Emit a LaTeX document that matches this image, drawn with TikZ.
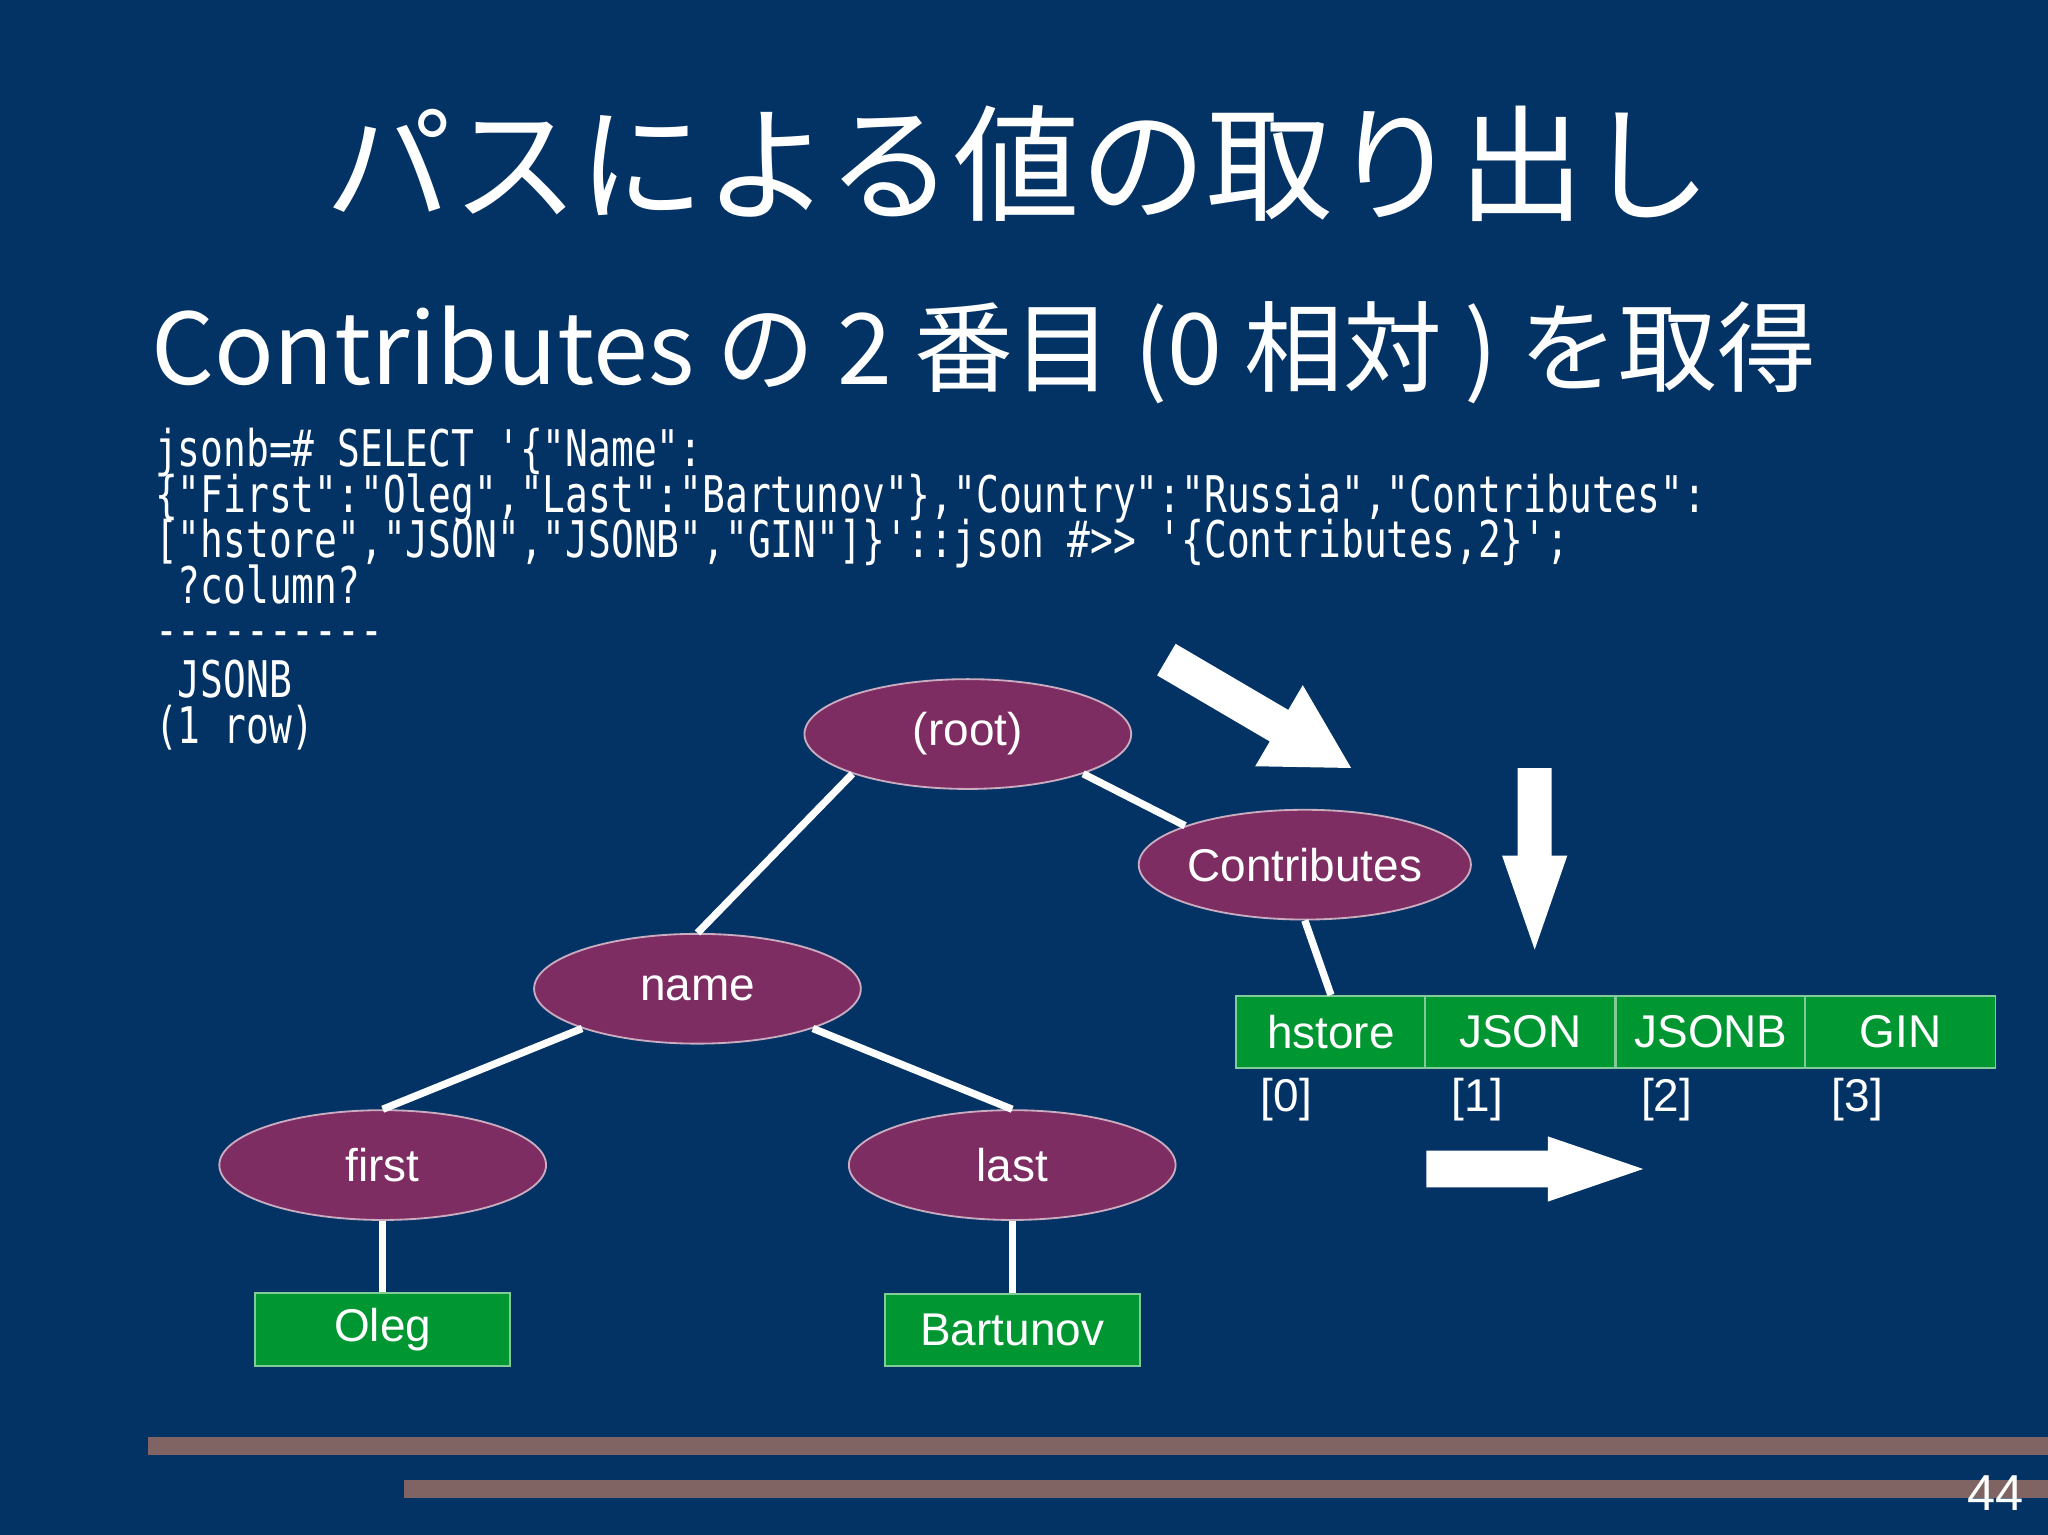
\documentclass[tikz,border=0pt]{standalone}
\usepackage{fontspec}
\setmainfont{Liberation Sans}
\newfontfamily\cjk{Noto Sans CJK JP}
\newfontfamily\codefont{DejaVu Sans Mono}
\usetikzlibrary{shapes.geometric}
\definecolor{bg}{RGB}{3,51,101}
\definecolor{nodepurple}{RGB}{125,45,98}
\definecolor{boxgreen}{RGB}{0,150,50}
\definecolor{barbrown}{RGB}{128,99,99}
\begin{document}
\begin{tikzpicture}[x=0.01cm,y=-0.01cm,
  el/.style={ellipse,draw=white!60!nodepurple,line width=0.4pt,fill=nodepurple,minimum width=2.5cm,minimum height=0.84cm,inner xsep=0pt,text=white,font=\fontsize{10}{11}\selectfont},
  gbox/.style={draw=white!50!boxgreen,line width=0.4pt,fill=boxgreen,text=white,minimum height=0.55cm,font=\fontsize{10}{11}\selectfont},
  cell/.style={gbox,minimum width=1.455cm},
  conn/.style={white,line width=1.6pt},
  code/.style={anchor=base west,text=white,inner sep=0pt,font=\codefont\fontsize{11}{11}\selectfont},
  idx/.style={text=white,font=\fontsize{10}{11}\selectfont},
  bigarrow/.style={fill=white,draw=none}]
\fill[bg] (0,0) rectangle (1568,1175);
\useasboundingbox (0,0) rectangle (1568,1175);

% title and subtitle
\node[text=white,font=\cjk\fontsize{27.5}{30}\selectfont] (title) at (780,125) {パスによる値の取り出し};
\node[anchor=west,text=white,inner sep=0pt,font=\cjk\fontsize{21.5}{23}\selectfont] (sub) at (115,270) {Contributes の 2 番目 (0 相対 ) を取得};

% query
\node[code] (c1) at (118,357) {\scalebox{0.75}[1]{jsonb=\# SELECT '\{"Name":}};
\node[code] (c2) at (118,392) {\scalebox{0.75}[1]{\{"First":"Oleg","Last":"Bartunov"\},"Country":"Russia","Contributes":}};
\node[code] (c3) at (118,427) {\scalebox{0.75}[1]{["hstore","JSON","JSONB","GIN"]\}'::json \#>> '\{Contributes,2\}';}};
\node[code] (c4) at (118,462) {\scalebox{0.75}[1]{\ ?column?}};
\node[code] (c5) at (118,496) {\scalebox{0.75}[1]{----------}};
\node[code] (c6) at (118,534) {\scalebox{0.75}[1]{\ JSONB}};
\node[code] (c7) at (118,569) {\scalebox{0.75}[1]{(1 row)}};

% tree
\node[el] (root) at (741,562) {(root)};
\node[el] (contrib) at (999,662) {Contributes};
\node[el] (name) at (534,757) {name};
\node[el] (first) at (293,892) {first};
\node[el] (last) at (775,892) {last};
\node[gbox,minimum width=1.95cm] (oleg) at (293,1018) {Oleg};
\node[gbox,minimum width=1.95cm] (bart) at (775,1018) {Bartunov};

\node[cell] (a0) at (1019,790) {hstore};
\node[cell] (a1) at (1164,790) {JSON};
\node[cell] (a2) at (1310,790) {JSONB};
\node[cell] (a3) at (1455,790) {GIN};
\node[idx] (i0) at (985,842) {[0]};
\node[idx] (i1) at (1131,842) {[1]};
\node[idx] (i2) at (1276,842) {[2]};
\node[idx] (i3) at (1422,842) {[3]};

\draw[conn] (root.199) -- (name.north);
\draw[conn] (root.341) -- (contrib.162);
\draw[conn] (contrib.south) -- (a0.north);
\draw[conn] (name.199) -- (first.north);
\draw[conn] (name.341) -- (last.north);
\draw[conn] (first) -- (oleg);
\draw[conn] (last) -- (bart);

% block arrows
\begin{scope}[shift={(893,505)},rotate=-30.4]
\fill[bigarrow] (0,-14) -- (100,-14) -- (100,-36) -- (164,0) -- (100,36) -- (100,14) -- (0,14) -- cycle;
\end{scope}
\fill[bigarrow] (1162,588) -- (1188,588) -- (1188,655) -- (1200,655) -- (1175,727) -- (1150,655) -- (1162,655) -- cycle;
\fill[bigarrow] (1092,881) -- (1185,881) -- (1185,870) -- (1258,895) -- (1185,920) -- (1185,909) -- (1092,909) -- cycle;

% footer
\fill[barbrown] (113,1100) rectangle (1568,1114);
\fill[barbrown] (309,1133) rectangle (1568,1147);
\node[text=white,font=\fontsize{11}{12}\selectfont] (pg) at (1528,1143) {44};
\end{tikzpicture}
\end{document}
